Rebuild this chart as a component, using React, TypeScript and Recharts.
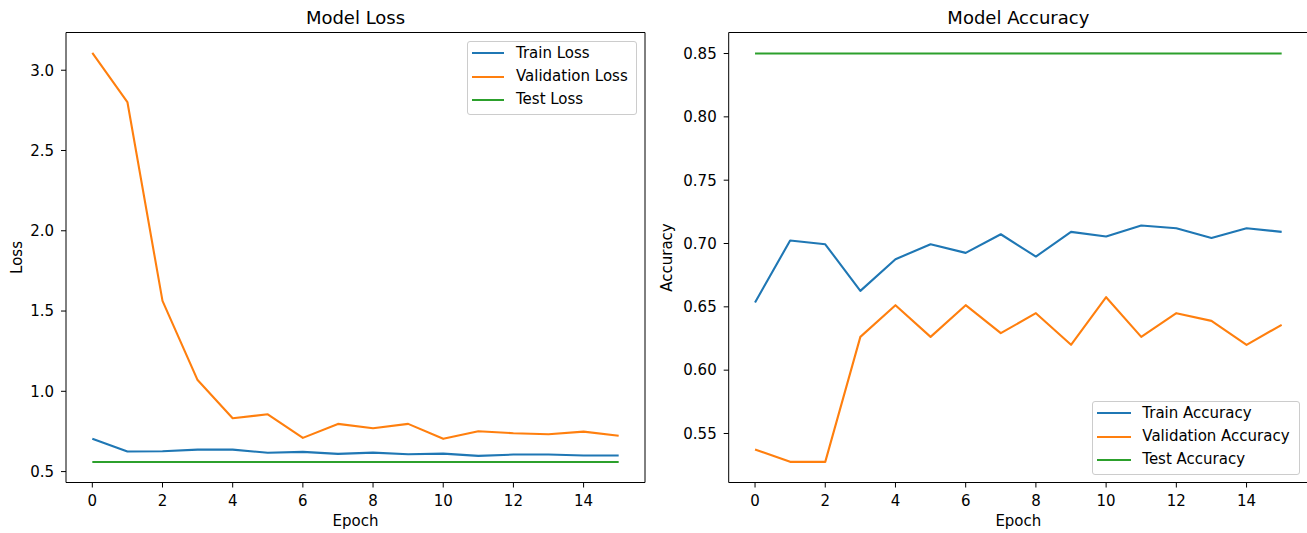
import React from "react";
import { LineChart, Line, XAxis, YAxis, Legend } from "recharts";

// epochs and values
const epochs = [0, 1, 2, 3, 4, 5, 6, 7, 8, 9, 10, 11, 12, 13, 14, 15];
const xTicks = [0, 2, 4, 6, 8, 10, 12, 14];

const trainLoss = [0.704, 0.625, 0.627, 0.637, 0.637, 0.617, 0.623, 0.61, 0.618, 0.608, 0.612, 0.598, 0.606, 0.606, 0.6, 0.6];
const valLoss = [3.108, 2.802, 1.563, 1.07, 0.832, 0.857, 0.71, 0.797, 0.77, 0.797, 0.704, 0.751, 0.739, 0.733, 0.749, 0.723];
const testLoss = [0.56, 0.56, 0.56, 0.56, 0.56, 0.56, 0.56, 0.56, 0.56, 0.56, 0.56, 0.56, 0.56, 0.56, 0.56, 0.56];
const lossTicks = [0.5, 1.0, 1.5, 2.0, 2.5, 3.0];

const trainAcc = [0.6534, 0.7024, 0.6994, 0.6626, 0.6876, 0.6994, 0.6926, 0.7073, 0.6897, 0.7092, 0.7055, 0.7142, 0.7121, 0.7044, 0.7121, 0.7092];
const valAcc = [0.5374, 0.5276, 0.5276, 0.6263, 0.6513, 0.6263, 0.6513, 0.6292, 0.645, 0.62, 0.6576, 0.6263, 0.645, 0.6389, 0.62, 0.6358];
const testAcc = [0.85, 0.85, 0.85, 0.85, 0.85, 0.85, 0.85, 0.85, 0.85, 0.85, 0.85, 0.85, 0.85, 0.85, 0.85, 0.85];
const accTicks = [0.55, 0.6, 0.65, 0.7, 0.75, 0.8, 0.85];

const lossRows = epochs.map((epoch, i) => ({ epoch, train: trainLoss[i], val: valLoss[i], test: testLoss[i] }));
const accRows = epochs.map((epoch, i) => ({ epoch, train: trainAcc[i], val: valAcc[i], test: testAcc[i] }));

const FONT = '"DejaVu Sans", Verdana, sans-serif';
const colors = ["#1f77b4", "#ff7f0e", "#2ca02c"];
const keys = ["train", "val", "test"];
const xDomain = [-0.75, 15.75];
const tickStyle = { fill: "#000", fontSize: 15, fontFamily: FONT };

const titleLabel = (text: string) => (props: any) => {
  const vb = props.viewBox;
  return (
    <text x={vb.x + vb.width / 2} y={vb.y + vb.height - 8.7} textAnchor="middle" fontSize={18} fontFamily={FONT} fill="#000">
      {text}
    </text>
  );
};

const bottomLabel = (text: string) => (props: any) => {
  const vb = props.viewBox;
  return (
    <text x={vb.x + vb.width / 2} y={vb.y + vb.height - 7.5} textAnchor="middle" fontSize={15} fontFamily={FONT} fill="#000">
      {text}
    </text>
  );
};

const sideLabel = (text: string) => (props: any) => {
  const vb = props.viewBox;
  const x = vb.x + 22.3;
  const y = vb.y + vb.height / 2;
  return (
    <text x={x} y={y} transform={`rotate(-90, ${x}, ${y})`} textAnchor="middle" fontSize={15} fontFamily={FONT} fill="#000">
      {text}
    </text>
  );
};

// legend drawn in the series order, matplotlib style frame
const LegendBox = ({ names, lineLeft, lineLen, textLeft }: any) => (
  <div
    style={{
      width: "100%",
      height: "100%",
      boxSizing: "border-box",
      border: "1px solid #cccccc",
      borderRadius: 3,
      background: "rgba(255,255,255,0.8)",
      fontFamily: FONT,
      fontSize: 15,
      color: "#000",
    }}
  >
    {names.map((name: string, i: number) => (
      <div key={name} style={{ display: "flex", alignItems: "center", height: 23.3 }}>
        <div style={{ marginLeft: lineLeft - 1, width: lineLen, height: 2, background: colors[i] }} />
        <div style={{ marginLeft: textLeft - lineLeft - lineLen, lineHeight: "15px", whiteSpace: "nowrap" }}>{name}</div>
      </div>
    ))}
  </div>
);

const Panel = ({ rows, yDomain, yTicks, digits, title, yLabel, names, legendBox, width, yWidth, right, frameRight }: any) => (
  <LineChart width={width} height={533} data={rows} margin={{ top: 31.5, right, bottom: 0, left: 0 }}>
    <XAxis
      dataKey="epoch"
      type="number"
      domain={xDomain}
      ticks={xTicks}
      allowDataOverflow
      height={50.5}
      tickSize={5}
      tickMargin={7.5}
      stroke="#000"
      tick={tickStyle}
      label={bottomLabel("Epoch")}
    />
    <XAxis
      xAxisId="top"
      orientation="top"
      dataKey="epoch"
      type="number"
      domain={xDomain}
      allowDataOverflow
      height={1}
      tick={false}
      tickLine={false}
      stroke="#000"
      label={titleLabel(title)}
    />
    <YAxis
      type="number"
      domain={yDomain}
      ticks={yTicks}
      allowDataOverflow
      width={yWidth}
      tickSize={5}
      tickMargin={7}
      stroke="#000"
      tick={tickStyle}
      tickFormatter={(v: number) => v.toFixed(digits)}
      label={sideLabel(yLabel)}
    />
    {frameRight && (
      <YAxis
        yAxisId="right"
        orientation="right"
        type="number"
        domain={yDomain}
        allowDataOverflow
        width={1}
        tick={false}
        tickLine={false}
        stroke="#000"
      />
    )}
    <Legend
      layout="horizontal"
      verticalAlign="middle"
      align="center"
      wrapperStyle={{ left: legendBox.left, top: legendBox.top, width: legendBox.width, height: legendBox.height }}
      content={() => (
        <LegendBox names={names} lineLeft={legendBox.lineLeft} lineLen={legendBox.lineLen} textLeft={legendBox.textLeft} />
      )}
    />
    {keys.map((k, i) => (
      <Line
        key={k}
        dataKey={k}
        name={names[i]}
        stroke={colors[i]}
        strokeWidth={2.1}
        strokeLinejoin="round"
        dot={false}
        activeDot={false}
        isAnimationActive={false}
      />
    ))}
  </LineChart>
);

export default function App() {
  return (
    <div style={{ position: "absolute", left: 0, top: 0, width: 1307, height: 533, overflow: "hidden", background: "#fff" }}>
      <div style={{ position: "absolute", left: 0, top: 0 }}>
        <Panel
          rows={lossRows}
          yDomain={[0.432, 3.235]}
          yTicks={lossTicks}
          digits={1}
          title="Model Loss"
          yLabel="Loss"
          names={["Train Loss", "Validation Loss", "Test Loss"]}
          legendBox={{ left: 467.3, top: 40.7, width: 170, height: 74.6, lineLeft: 4.4, lineLen: 32.6, textLeft: 48.7 }}
          width={650}
          yWidth={66}
          right={4}
          frameRight
        />
      </div>
      <div style={{ position: "absolute", left: 650, top: 0 }}>
        <Panel
          rows={accRows}
          yDomain={[0.5113, 0.8666]}
          yTicks={accTicks}
          digits={2}
          title="Model Accuracy"
          yLabel="Accuracy"
          names={["Train Accuracy", "Validation Accuracy", "Test Accuracy"]}
          legendBox={{ left: 442.3, top: 400.7, width: 207.7, height: 74.3, lineLeft: 5, lineLen: 33.4, textLeft: 50 }}
          width={658}
          yWidth={78.7}
          right={0}
          frameRight={false}
        />
      </div>
    </div>
  );
}
